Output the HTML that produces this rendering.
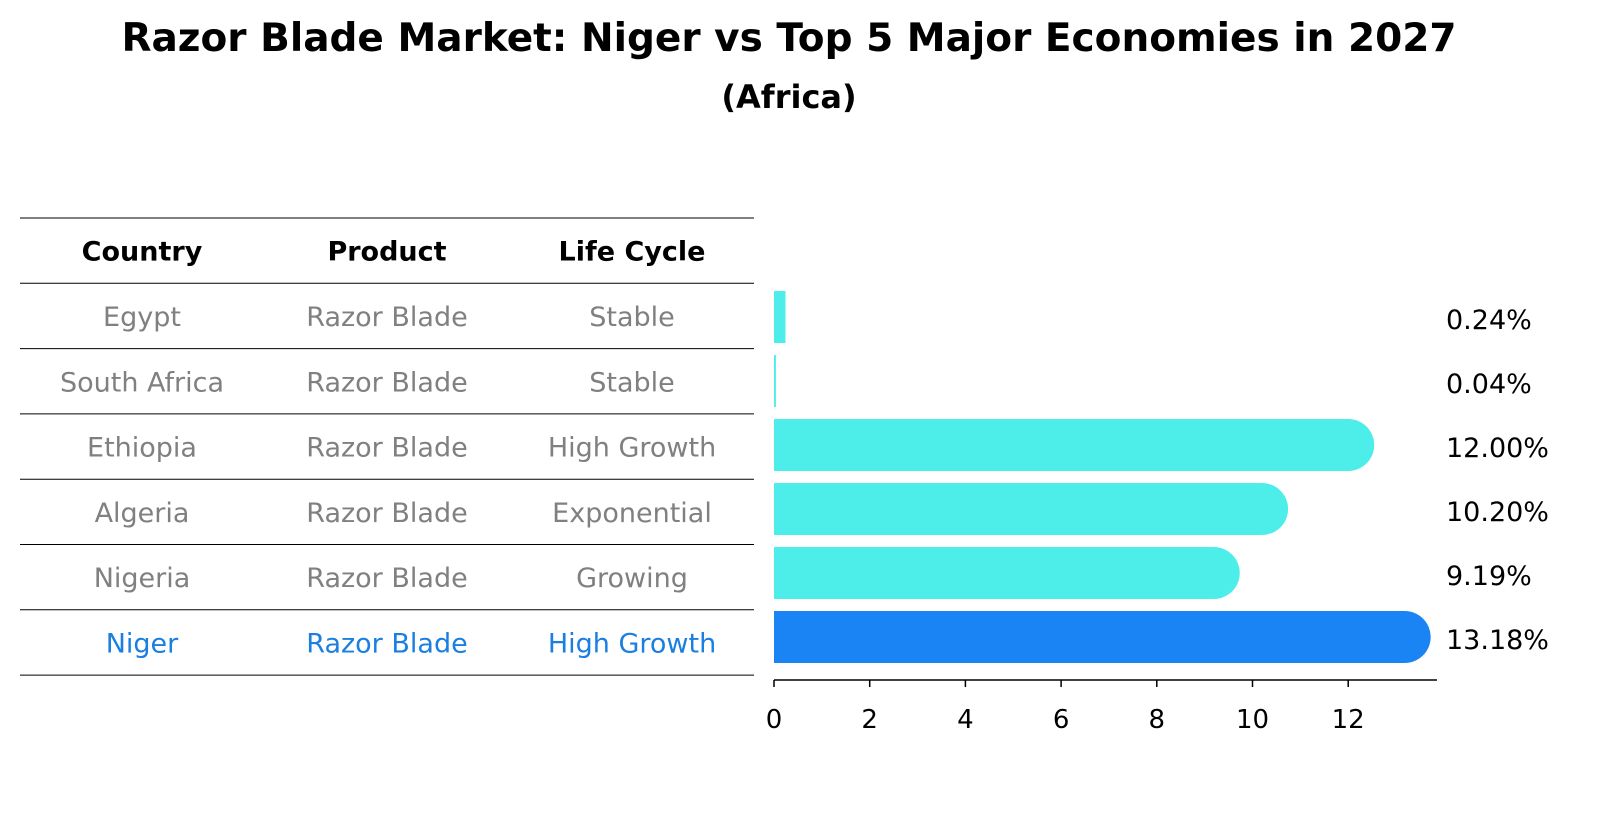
<!DOCTYPE html>
<html><head><meta charset="utf-8"><style>
body{margin:0;background:#fff;}
svg text{font-family:"DejaVu Sans","Liberation Sans",sans-serif;}
</style></head><body>
<svg width="1604" height="823" viewBox="0 0 1604 823" xmlns="http://www.w3.org/2000/svg">
<text x="789" y="51" text-anchor="middle" font-size="39" font-weight="bold">Razor Blade Market: Niger vs Top 5 Major Economies in 2027</text>
<text x="789" y="108" text-anchor="middle" font-size="32" font-weight="bold">(Africa)</text>
<g id="table"></g>
<g id="bars"></g>
</svg>
<script>
const countries=["Egypt","South Africa","Ethiopia","Algeria","Nigeria","Niger"];
const products=["Razor Blade","Razor Blade","Razor Blade","Razor Blade","Razor Blade","Razor Blade"];
const lifeCycles=["Stable","Stable","High Growth","Exponential","Growing","High Growth"];
const values=[0.24,0.04,12.00,10.20,9.19,13.18];
const valueLabels=["0.24%","0.04%","12.00%","10.20%","9.19%","13.18%"];
const ticks=[0,2,4,6,8,10,12];

const NS="http://www.w3.org/2000/svg";
function mk(tag,attrs,parent){const e=document.createElementNS(NS,tag);for(const k in attrs)e.setAttribute(k,attrs[k]);parent.appendChild(e);return e;}
const tbl=document.getElementById('table');
const rowH=65.3, tableTop=218;
const colX=[142,387,632];
for(let i=0;i<=countries.length+1;i++){
  const l=mk('line',{x1:20,x2:754,y1:tableTop+i*rowH,y2:tableTop+i*rowH,stroke:'#000','stroke-width':1},tbl);
  
  
}
["Country","Product","Life Cycle"].forEach((h,j)=>{
  const t=mk('text',{x:colX[j],y:tableTop+rowH/2+10,'text-anchor':'middle','font-size':27,'font-weight':'bold'},tbl);
  t.textContent=h;
  
  
});
countries.forEach((c,i)=>{
  const y=tableTop+(i+1.5)*rowH+10;
  const col=c==="Niger"?"#1a7fe0":"#808080";
  [c,products[i],lifeCycles[i]].forEach((v,j)=>{
    const t=mk('text',{x:colX[j],y:y,'text-anchor':'middle','font-size':27,fill:col},tbl);
    t.textContent=v;
    
    
  });
});
const g=document.getElementById('bars');
const x0=774, pxPer=47.85;
const xs=v=>x0+v*pxPer;
const bh=52, cy0=317, step=64;
values.forEach((v,i)=>{
  const cy=cy0+i*step, r=bh/2;
  const col=countries[i]==="Niger"?"#1a84f5":"#4deeea";
  const xe=xs(v);
  let d;
  if(v>1){d=`M${x0},${cy-r} L${xe},${cy-r} A${r},${r} 0 0 1 ${xe},${cy+r} L${x0},${cy+r} Z`;}
  else{const xx=Math.max(xe,x0+1.5);d=`M${x0},${cy-r} L${xx},${cy-r} L${xx},${cy+r} L${x0},${cy+r} Z`;}
  const p=mk('path',{d:d,fill:col},g);
  
  
  const t=mk('text',{x:1446,y:cy+12,'font-size':27},g);
  t.textContent=valueLabels[i];
  
  
});
const ax=mk('line',{x1:x0,x2:1437,y1:680,y2:680,stroke:'#000','stroke-width':1.5},g);


ticks.forEach(v=>{
  const l=mk('line',{x1:xs(v),x2:xs(v),y1:680,y2:687,stroke:'#000','stroke-width':1.5},g);
  
  
  const t=mk('text',{x:xs(v),y:728,'text-anchor':'middle','font-size':26},g);
  t.textContent=v;
  
  
});
</script>
</body></html>
